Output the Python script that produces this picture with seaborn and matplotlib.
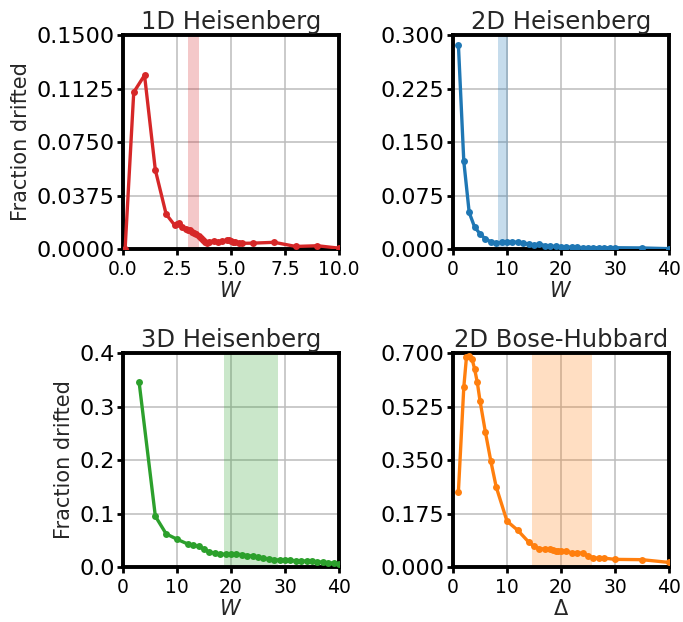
import numpy as np
import pandas as pd
import matplotlib
matplotlib.use("Agg")
import matplotlib.pyplot as plt
from matplotlib.ticker import FormatStrFormatter
import seaborn as sns

# 1D Heisenberg
w_1d = [0.1, 0.5, 1.0, 1.5, 2.0, 2.4, 2.5, 2.6, 2.75, 2.9, 3.0, 3.1, 3.2, 3.3,
        3.4, 3.5, 3.6, 3.7, 3.8, 3.9, 4.0, 4.2, 4.4, 4.6, 4.8, 4.9, 5.0, 5.1,
        5.2, 5.35, 5.5, 6.0, 7.0, 8.0, 9.0, 10.0]
frac_1d = [0.0, 0.1099, 0.1218, 0.0554, 0.0244, 0.0166, 0.0175, 0.0180, 0.0154,
           0.0140, 0.0135, 0.0130, 0.0122, 0.0115, 0.0103, 0.0092, 0.0080,
           0.0065, 0.0052, 0.0045, 0.0052, 0.0056, 0.0050, 0.0058, 0.0060,
           0.0062, 0.0055, 0.0052, 0.0050, 0.0045, 0.0040, 0.0041, 0.0047,
           0.0018, 0.0023, 0.0006]
band_1d = (3.0, 3.5)

# 2D Heisenberg
w_2d = list(range(1, 31)) + [35, 40]
frac_2d = [0.2865, 0.1230, 0.0512, 0.0308, 0.0214, 0.0140, 0.0102, 0.0085,
           0.0092, 0.0098, 0.0100, 0.0093, 0.0085, 0.0068, 0.0050, 0.0075,
           0.0045, 0.0038, 0.0037, 0.0033, 0.0028, 0.0025, 0.0022, 0.0020,
           0.0020, 0.0019, 0.0019, 0.0019, 0.0018, 0.0018, 0.0015, 0.0005]
band_2d = (8.4, 10.2)

# 3D Heisenberg
w_3d = [3, 6, 8, 10] + list(range(12, 41))
frac_3d = [0.345, 0.095, 0.062, 0.052, 0.043, 0.0405, 0.0386, 0.0336, 0.028,
           0.0262, 0.0243, 0.0237, 0.025, 0.0243, 0.023, 0.0212, 0.0206,
           0.0187, 0.0168, 0.015, 0.0137, 0.013, 0.0128, 0.0122, 0.0118,
           0.0113, 0.011, 0.0105, 0.0098, 0.009, 0.0082, 0.0072, 0.0062]
band_3d = (18.7, 28.7)

# 2D Bose-Hubbard
d_bh = [1, 2, 2.5, 3, 3.5, 4, 4.5, 5, 6, 7, 8, 10, 12, 14, 15, 16, 17, 18,
        18.5, 19, 19.5, 20, 21, 22, 23, 24, 25, 26, 27, 28, 30, 35, 40]
frac_bh = [0.2457, 0.588, 0.688, 0.691, 0.682, 0.648, 0.604, 0.544, 0.441,
           0.347, 0.262, 0.150, 0.120, 0.082, 0.068, 0.060, 0.059, 0.058,
           0.055, 0.053, 0.052, 0.053, 0.052, 0.046, 0.047, 0.045, 0.037,
           0.030, 0.029, 0.029, 0.025, 0.024, 0.015]
band_bh = (14.6, 25.7)

titles = ["1D Heisenberg", "2D Heisenberg", "3D Heisenberg", "2D Bose-Hubbard"]
xlabels = ["$W$", "$W$", "$W$", r"$\Delta$"]
colors = ["#d62728", "#1f77b4", "#2ca02c", "#ff7f0e"]
xmax = [10, 40, 40, 40]
ymax = [0.15, 0.3, 0.4, 0.7]
yfmt = ["%.4f", "%.3f", "%.1f", "%.3f"]
xfmt = ["%.1f", "%d", "%d", "%d"]

sns.set_theme(style="whitegrid", rc={
    "axes.edgecolor": "black",
    "axes.linewidth": 2.8,
    "grid.color": "#bcbcbc",
    "grid.linewidth": 1.1,
    "xtick.bottom": True,
    "ytick.left": True,
    "xtick.major.size": 4.5,
    "ytick.major.size": 4.5,
    "xtick.major.width": 2.0,
    "ytick.major.width": 2.0,
    "xtick.major.pad": 3.5,
    "ytick.major.pad": 1.5,
    "xtick.color": "black",
    "ytick.color": "black",
    "xtick.labelsize": 13.5,
    "ytick.labelsize": 16,
    "axes.labelsize": 15,
    "axes.titlesize": 17.5,
})
plt.rcParams["font.family"] = ["DejaVu Sans"]
plt.rcParams["mathtext.fontset"] = "dejavusans"

panels = [
    (w_1d, frac_1d, band_1d),
    (w_2d, frac_2d, band_2d),
    (w_3d, frac_3d, band_3d),
    (d_bh, frac_bh, band_bh),
]

fig, axes = plt.subplots(2, 2, figsize=(6.83, 6.22), dpi=100)
fig.subplots_adjust(left=0.180, right=0.9795, bottom=0.0884, top=0.9437,
                    wspace=0.528, hspace=0.486)

for i, (ax, (xs, ys, band)) in enumerate(zip(axes.flat, panels)):
    df = pd.DataFrame({"x": xs, "y": ys})
    ax.axvspan(band[0], band[1], color=colors[i], alpha=0.25, lw=0, zorder=1)
    sns.lineplot(data=df, x="x", y="y", ax=ax, color=colors[i], marker="o",
                 markersize=5, markeredgewidth=0, linewidth=2.4, zorder=3)
    ax.set_xlim(0, xmax[i])
    ax.set_ylim(0, ymax[i])
    ax.set_xticks(np.linspace(0, xmax[i], 5))
    ax.set_yticks(np.linspace(0, ymax[i], 5))
    ax.xaxis.set_major_formatter(FormatStrFormatter(xfmt[i]))
    ax.yaxis.set_major_formatter(FormatStrFormatter(yfmt[i]))
    ax.set_title(titles[i], pad=4)
    ax.set_xlabel(xlabels[i], labelpad=1)
    ax.set_ylabel("Fraction drifted" if i % 2 == 0 else "")
    ax.grid(True, zorder=0)
    ax.set_axisbelow(True)

fig.savefig("out.png", dpi=100)
